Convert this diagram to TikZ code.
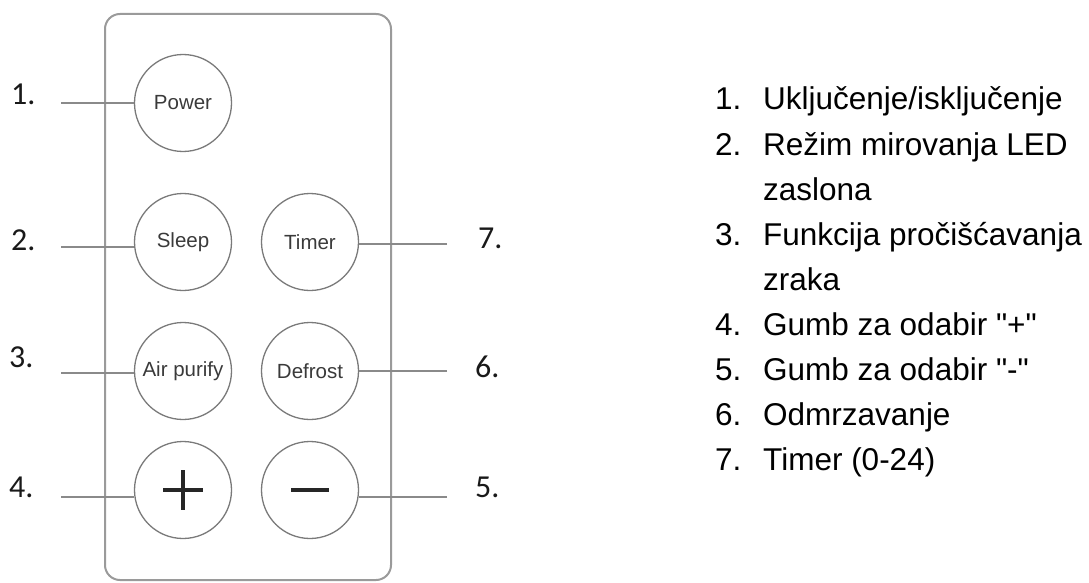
\documentclass[tikz,border=0pt]{standalone}
\usepackage{fontspec}
\setmainfont{Liberation Sans}[Ligatures=TeXOff]
\newfontfamily\lblfont{Carlito}
\definecolor{frame}{HTML}{9A9A9A}
\definecolor{btn}{HTML}{7A7A7A}
\definecolor{lead}{HTML}{8A8A8A}
\definecolor{btntext}{HTML}{3A3A3A}
\begin{document}
\begin{tikzpicture}[x=1pt,y=-1pt,
  button/.style={circle,draw=btn,line width=1.3pt,minimum size=97pt,inner sep=0pt,
    font=\fontsize{20.5}{24}\selectfont,text=btntext},
  leader/.style={draw=lead,line width=1.4pt},
  callout/.style={anchor=base west,font=\lblfont\fontsize{32}{36}\selectfont,inner sep=0pt,text=black!90},
  item/.style={anchor=base west,font=\fontsize{31.5}{36}\selectfont,inner sep=0pt}]
\useasboundingbox (0,0) rectangle (1089,583);
% remote body
\draw[frame,line width=2pt,rounded corners=15pt] (105,14) rectangle (391,580);
% buttons
\node[button] (power) at (183,103) {Power};
\node[button] (sleep) at (183,242) {Sleep};
\node[button] (timer) at (310,242) {Timer};
\node[button] (air) at (183,371) {Air purify};
\node[button] (defrost) at (310,371) {Defrost};
\node[button] (plus) at (183,490) {};
\node[button] (minus) at (310,490) {};
\draw[line width=3.2pt,black!85] (plus.center) ++(-20,0) -- ++(40,0);
\draw[line width=3.2pt,black!85] (plus.center) ++(0,-20) -- ++(0,40);
\draw[line width=3.6pt,black!85] (minus.center) ++(-19,0) -- ++(38,0);
% callout numbers
\node[callout] (n1) at (11,105) {1.};
\node[callout] (n2) at (11,250) {2.};
\node[callout] (n3) at (9,367) {3.};
\node[callout] (n4) at (9,497) {4.};
\node[callout] (n7) at (478,248) {7.};
\node[callout] (n6) at (475,377) {6.};
\node[callout] (n5) at (475,497) {5.};
% leader line ends
\coordinate (c1) at (61,103);
\coordinate (c2) at (61,247);
\coordinate (c3) at (61,373);
\coordinate (c4) at (61,497);
\coordinate (c7) at (447,244);
\coordinate (c6) at (447,371);
\coordinate (c5) at (447,497);
\draw[leader] (c1) -- (power.west |- c1);
\draw[leader] (c2) -- (sleep.west |- c2);
\draw[leader] (c3) -- (air.west |- c3);
\draw[leader] (c4) -- (plus.west |- c4);
\draw[leader] (c7) -- (timer.east |- c7);
\draw[leader] (c6) -- (defrost.east |- c6);
\draw[leader] (c5) -- (minus.east |- c5);
% legend
\node[item] (i1) at (715,110) {1.};
\node[item] (t1) at (763,110) {Uključenje/isključenje};
\node[item] (i2) at (715,155) {2.};
\node[item] (t2) at (763,155) {Režim mirovanja LED};
\node[item] (t2b) at (763,200) {zaslona};
\node[item] (i3) at (715,245) {3.};
\node[item] (t3) at (763,245) {Funkcija pročišćavanja};
\node[item] (t3b) at (763,290) {zraka};
\node[item] (i4) at (715,335) {4.};
\node[item] (t4) at (763,335) {Gumb za odabir "+"};
\node[item] (i5) at (715,380) {5.};
\node[item] (t5) at (763,380) {Gumb za odabir "-"};
\node[item] (i6) at (715,425) {6.};
\node[item] (t6) at (763,425) {Odmrzavanje};
\node[item] (i7) at (715,470) {7.};
\node[item] (t7) at (763,470) {Timer (0-24)};
\end{tikzpicture}
\end{document}
